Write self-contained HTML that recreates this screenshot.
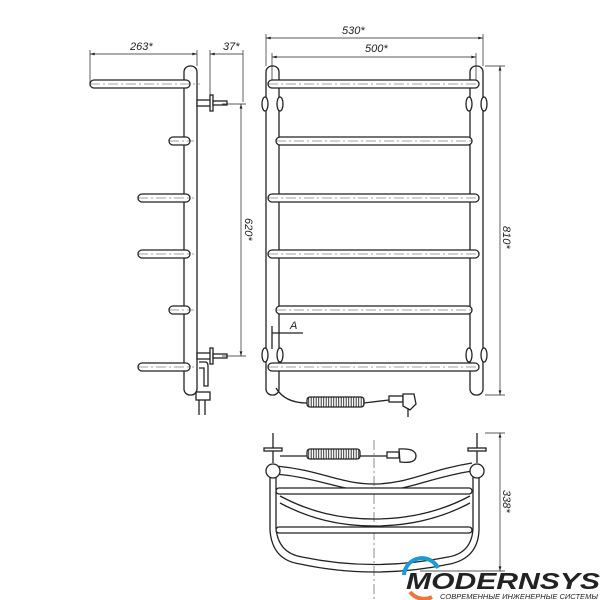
<!DOCTYPE html>
<html><head><meta charset="utf-8"><style>
html,body{margin:0;padding:0;background:#fff}
svg{display:block}
text{font-family:"Liberation Sans",sans-serif;font-style:italic;fill:#222}
</style></head><body>
<svg width="600" height="600" viewBox="0 0 600 600" xmlns="http://www.w3.org/2000/svg">
<defs>
<marker id="ar" viewBox="0 0 10 6" refX="10" refY="3" markerWidth="8" markerHeight="4" orient="auto-start-reverse"><path d="M0,0L10,3L0,6z" fill="#222"/></marker>
<pattern id="coil" width="2.5" height="10" patternUnits="userSpaceOnUse"><rect width="2.5" height="10" fill="#fff"/><path d="M1.2,0v10" stroke="#222" stroke-width="0.9"/></pattern>
</defs>
<g stroke="#222" fill="#fff" stroke-width="1.3">
<!-- SIDE VIEW -->
<rect x="184" y="66" width="13" height="329" rx="6"/>
<rect x="90" y="80" width="100" height="8" rx="4"/>
<rect x="169" y="137" width="21" height="8" rx="4"/>
<rect x="138" y="194" width="52" height="8" rx="4"/>
<rect x="138" y="250" width="52" height="8" rx="4"/>
<rect x="169" y="306" width="21" height="8" rx="4"/>
<rect x="138" y="363" width="52" height="8" rx="4"/>
<rect x="197" y="100" width="14" height="6"/><rect x="210" y="95" width="3" height="16"/><rect x="213" y="101" width="14" height="4"/>
<rect x="197" y="353" width="14" height="6"/><rect x="210" y="348" width="3" height="16"/><rect x="213" y="354" width="14" height="4"/>
<path d="M199,362 L205,362 Q208,362 208,366 L208,386 L204,386 L204,368 L199,368" />
<rect x="196" y="392" width="14" height="8"/><path d="M199,400v15M205,400v15" fill="none"/>
<!-- FRONT VIEW -->
<rect x="266" y="66" width="13" height="329" rx="6"/>
<rect x="470" y="66" width="13" height="329" rx="6"/>
<ellipse cx="265" cy="104" rx="3" ry="7"/><ellipse cx="280" cy="104" rx="3" ry="7"/>
<ellipse cx="469" cy="104" rx="3" ry="7"/><ellipse cx="484" cy="104" rx="3" ry="7"/>
<ellipse cx="265" cy="355" rx="3" ry="7"/><ellipse cx="280" cy="355" rx="3" ry="7"/>
<ellipse cx="469" cy="355" rx="3" ry="7"/><ellipse cx="484" cy="355" rx="3" ry="7"/>
<rect x="268" y="80" width="211" height="8" rx="4"/>
<rect x="276" y="137" width="196" height="8" rx="4"/>
<rect x="268" y="194" width="211" height="8" rx="4"/>
<rect x="268" y="250" width="211" height="8" rx="4"/>
<rect x="276" y="306" width="196" height="8" rx="4"/>
<rect x="268" y="363" width="211" height="8" rx="4"/>
<path d="M276,388 Q285,403 307,403 L364,403 L389,400" fill="none"/>
<rect x="307" y="397" width="57" height="10" rx="3" fill="url(#coil)"/>
<rect x="389" y="396" width="14" height="6"/><path d="M403,394 L414,394 L416,404 L410,410 L403,406z"/>
<path d="M408,408v9" fill="none"/>
<path d="M272,326v23M272,333h31" fill="none"/>
</g>
<g stroke="#444" stroke-width="0.6" stroke-dasharray="10,3,2,3" fill="none">
<path d="M90,84h110M169,141h25M138,198h56M138,254h56M169,310h25M138,367h56"/>
<path d="M268,84h211M276,141h196M268,198h211M268,254h211M276,310h196M268,367h211"/>
<path d="M374,440v160"/>
</g>
<!-- TOP VIEW -->
<g stroke="#222" fill="#fff" stroke-width="1.3">
<path d="M270,471 L270,530 Q272,560 300,564 Q374,580 450,564 Q478,558 479,530 L479,471" fill="none"/>
<path d="M276,471 L276,528 Q278,553 302,557 Q374,572 448,557 Q472,553 473,528 L473,471" fill="none"/>
<path d="M276,466 C320,470 340,484 374,484 C408,484 428,470 472,463" fill="none"/>
<path d="M276,474 C320,478 340,491 374,491 C408,491 428,478 472,471" fill="none"/>
<rect x="276" y="488" width="196" height="6" rx="3"/>
<path d="M280,496 C310,512 340,519 374,519 C408,519 440,512 470,496" fill="none"/>
<path d="M280,503 C310,519 340,526 374,526 C408,526 440,519 470,503" fill="none"/>
<rect x="276" y="527" width="196" height="6" rx="3"/>
<circle cx="273" cy="471" r="7"/><circle cx="477" cy="471" r="7"/>
<path d="M273,433v30M477,433v30" fill="none"/>
<rect x="264" y="448" width="18" height="3"/><rect x="468" y="448" width="18" height="3"/>
<path d="M280,456 L410,456" fill="none"/>
<rect x="307" y="449" width="53" height="10" rx="3" fill="url(#coil)"/>
<rect x="387" y="452" width="12" height="6"/><path d="M399,449 Q416,448 416,456 Q416,464 400,462z"/>
</g>
<g stroke="#222" stroke-width="0.7" fill="none">
<path d="M90,50v35M197,50v16M243,50v52M210,50v50"/>
<path d="M90,54H197" marker-start="url(#ar)" marker-end="url(#ar)"/>
<path d="M210,54H243" marker-start="url(#ar)"/>
<path d="M222,104h24M222,356h24"/>
<path d="M241,104V356" marker-start="url(#ar)" marker-end="url(#ar)"/>
<path d="M266,34v32M483,34v32M272,53v27M476,53v27"/>
<path d="M266,38H483" marker-start="url(#ar)" marker-end="url(#ar)"/>
<path d="M272,57H476" marker-start="url(#ar)" marker-end="url(#ar)"/>
<path d="M485,66h20M485,395h20"/>
<path d="M500,66V395" marker-start="url(#ar)" marker-end="url(#ar)"/>
<path d="M485,433h20M420,571h85"/>
<path d="M500,433V571" marker-start="url(#ar)" marker-end="url(#ar)"/>
</g>
<g font-size="11">
<text x="130" y="50">263*</text>
<text x="223" y="50">37*</text>
<text x="342" y="34">530*</text>
<text x="365" y="52">500*</text>
<text x="290" y="329" font-style="normal">A</text>
<text transform="translate(245,218) rotate(90)">620*</text>
<text transform="translate(503,226) rotate(90)">810*</text>
<text transform="translate(503,490) rotate(90)">338*</text>
</g>
<path d="M404,575 A18,18 0 0 1 438,568" stroke="#1a9ad6" stroke-width="4" fill="none"/>
<path d="M410,592 A18,18 0 0 0 432,597" stroke="#ee7733" stroke-width="4" fill="none"/>
<text x="406" y="589" font-size="23" font-weight="bold" font-style="normal" fill="#333" textLength="194" lengthAdjust="spacingAndGlyphs">MODERNSYS</text>
<text x="440" y="599" font-size="7" font-style="normal" fill="#888" textLength="158" lengthAdjust="spacingAndGlyphs">СОВРЕМЕННЫЕ ИНЖЕНЕРНЫЕ СИСТЕМЫ</text>
</svg>
</body></html>
